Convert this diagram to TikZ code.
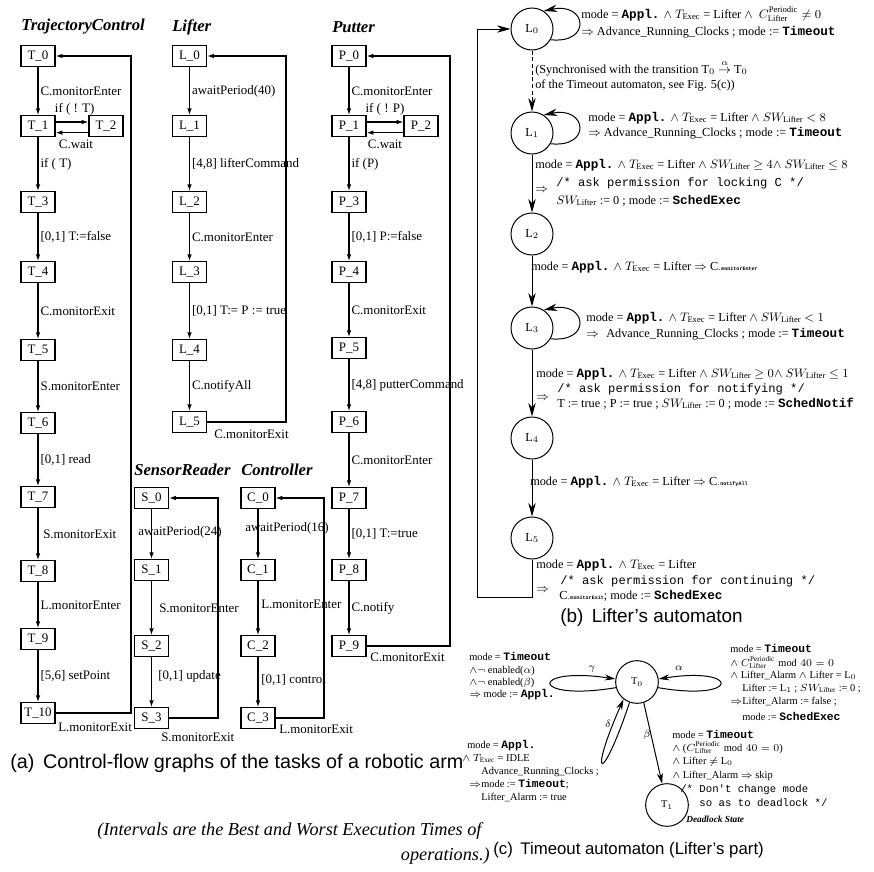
\RequirePackage{fix-cm}
\documentclass[tikz,border=0pt]{standalone}
\usepackage{fontspec}
\setmainfont{Liberation Serif}
\newfontfamily\sansfam{Liberation Sans}
\newfontfamily\monofam{Liberation Mono}
\usetikzlibrary{arrows.meta,calc}

% font sizes
\newcommand\fntA{\fontsize{9.7}{11}\selectfont}
\newcommand\fntTitle{\fontsize{12.5}{14}\selectfont\bfseries\itshape}
\newcommand\fntNote{\fontsize{13.7}{16}\selectfont\itshape}
\newcommand\fntB{\fontsize{9.2}{11}\selectfont}
\newcommand\fntC{\fontsize{7.8}{9}\selectfont}
\newcommand\kwB[1]{{\monofam\bfseries\fontsize{9.5}{10}\selectfont #1}}
\newcommand\kwC[1]{{\monofam\bfseries\fontsize{8.5}{9}\selectfont #1}}
\newcommand\cmtB[1]{{\monofam\fontsize{9.1}{10}\selectfont #1}}
\newcommand\cmtC[1]{{\monofam\fontsize{8}{9}\selectfont #1}}
\newcommand\tinytt[1]{{\monofam\bfseries\fontsize{3.8}{4}\selectfont #1}}
\newcommand\Texec{$T_{\mathrm{Exec}}$}
\newcommand\SWl{$SW_{\mathrm{Lifter}}$}
\newcommand\Cper{C^{\mathrm{Periodic}}_{\mathrm{Lifter}}}

\begin{document}
\begin{tikzpicture}[x=0.75pt,y=0.75pt,
  box/.style={draw, line width=0.9pt, minimum width=25.5pt, minimum height=15.5pt, inner sep=0pt, font=\fntA},
  aarr/.style={line width=0.9pt, -{Latex[length=5pt,width=3.4pt]}},
  lab/.style={font=\fntA, anchor=west, inner sep=1.5pt},
  ttl/.style={font=\fntTitle, anchor=west, inner sep=0pt},
  lcirc/.style={draw, circle, line width=0.75pt, minimum size=31.5pt, inner sep=0pt, font=\fntB},
  tcirc/.style={draw, circle, line width=0.75pt, minimum size=32pt, inner sep=0pt, font=\fntC},
  barr/.style={line width=0.75pt, -{Stealth[length=10pt,width=5.5pt,inset=3pt]}},
  carr/.style={line width=0.75pt, -{Stealth[length=8pt,width=4.5pt,inset=2.5pt]}},
  btx/.style={anchor=base west, inner sep=0pt, font=\fntB},
  ctx/.style={anchor=base west, inner sep=0pt, font=\fntC},
  captxt/.style={anchor=west, inner sep=0pt, font=\sansfam}]

\useasboundingbox (0,0) rectangle (874,-871);
\fill[white] (0,0) rectangle (874,-871);
\clip (0,0) rectangle (874,-871);

% ---------------- (a) control-flow graphs ----------------
\node[ttl] (ttlT) at (21,-27) {TrajectoryControl};
\node[ttl] (ttlL) at (172,-27) {Lifter};
\node[ttl] (ttlP) at (332,-27) {Putter};
\node[ttl] (ttlS) at (134,-470) {SensorReader};
\node[ttl] (ttlC) at (241,-470) {Controller};

% TrajectoryControl
\node[box] (T0) at (38,-56) {T\_0};
\node[box] (T1) at (38,-126) {T\_1};
\node[box] (T2) at (106,-126) {T\_2};
\node[box] (T3) at (38,-202) {T\_3};
\node[box] (T4) at (38,-272) {T\_4};
\node[box] (T5) at (38,-350) {T\_5};
\node[box] (T6) at (38,-423) {T\_6};
\node[box] (T7) at (38,-497) {T\_7};
\node[box] (T8) at (38,-571) {T\_8};
\node[box] (T9) at (38,-639) {T\_9};
\node[box] (T10) at (38,-713) {T\_10};
\draw[aarr] (T0) -- node[lab] {C.monitorEnter} (T1);
\draw[aarr] ([yshift=3pt]T1.east) -- node[font=\fntA, inner sep=0pt, yshift=9.5pt, xshift=2pt] {if ( ! T)} ([yshift=3pt]T2.west);
\draw[aarr] ([yshift=-5pt]T2.west) -- node[font=\fntA, inner sep=0pt, yshift=-9pt, xshift=3pt] {C.wait} ([yshift=-5pt]T1.east);
\draw[aarr] (T1) -- node[lab] {if ( T)} (T3);
\draw[aarr] (T3) -- node[lab] {[0,1] T:=false} (T4);
\draw[aarr] (T4) -- node[lab] {C.monitorExit} (T5);
\draw[aarr] (T5) -- node[lab] {S.monitorEnter} (T6);
\draw[aarr] (T6) -- node[lab] {[0,1] read} (T7);
\draw[aarr] (T7) -- node[lab, xshift=2pt] {S.monitorExit} (T8);
\draw[aarr] (T8) -- node[lab] {L.monitorEnter} (T9);
\draw[aarr] (T9) -- node[lab] {[5,6] setPoint} (T10);
\coordinate (Tr) at (131,-56);
\draw[aarr] (T10.east) -| (Tr) -- (T0.east);
\node[lab] (Tx) at (56,-727) {L.monitorExit};

% Lifter
\node[box] (La0) at (189.5,-56) {L\_0};
\node[box] (La1) at (189.5,-126) {L\_1};
\node[box] (La2) at (189.5,-202) {L\_2};
\node[box] (La3) at (189.5,-272) {L\_3};
\node[box] (La4) at (189.5,-350) {L\_4};
\node[box] (La5) at (189.5,-422) {L\_5};
\draw[aarr] (La0) -- node[lab] {awaitPeriod(40)} (La1);
\draw[aarr] (La1) -- node[lab] {[4,8] lifterCommand} (La2);
\draw[aarr] (La2) -- node[lab] {C.monitorEnter} (La3);
\draw[aarr] (La3) -- node[lab] {[0,1] T:= P := true} (La4);
\draw[aarr] (La4) -- node[lab] {C.notifyAll} (La5);
\coordinate (Lr) at (286,-56);
\draw[aarr] (La5.east) -| (Lr) -- (La0.east);
\node[lab] (Lx) at (212,-434) {C.monitorExit};

% Putter
\node[box] (P0) at (349,-56) {P\_0};
\node[box] (P1) at (349,-126) {P\_1};
\node[box] (P2) at (421,-126) {P\_2};
\node[box] (P3) at (349,-202) {P\_3};
\node[box] (P4) at (349,-272) {P\_4};
\node[box] (P5) at (349,-348) {P\_5};
\node[box] (P6) at (349,-422) {P\_6};
\node[box] (P7) at (349,-498) {P\_7};
\node[box] (P8) at (349,-570) {P\_8};
\node[box] (P9) at (349,-646) {P\_9};
\draw[aarr] (P0) -- node[lab] {C.monitorEnter} (P1);
\draw[aarr] ([yshift=3pt]P1.east) -- node[font=\fntA, inner sep=0pt, yshift=9.5pt] {if ( ! P)} ([yshift=3pt]P2.west);
\draw[aarr] ([yshift=-5pt]P2.west) -- node[font=\fntA, inner sep=0pt, yshift=-9pt] {C.wait} ([yshift=-5pt]P1.east);
\draw[aarr] (P1) -- node[lab] {if (P)} (P3);
\draw[aarr] (P3) -- node[lab] {[0,1] P:=false} (P4);
\draw[aarr] (P4) -- node[lab] {C.monitorExit} (P5);
\draw[aarr] (P5) -- node[lab] {[4,8] putterCommand} (P6);
\draw[aarr] (P6) -- node[lab] {C.monitorEnter} (P7);
\draw[aarr] (P7) -- node[lab] {[0,1] T:=true} (P8);
\draw[aarr] (P8) -- node[lab] {C.notify} (P9);
\coordinate (Pr) at (450,-56);
\draw[aarr] (P9.east) -| (Pr) -- (P0.east);
\node[lab] (Px) at (368,-657) {C.monitorExit};

% SensorReader
\node[box] (S0) at (151.5,-498) {S\_0};
\node[box] (S1) at (151.5,-570) {S\_1};
\node[box] (S2) at (151.5,-646) {S\_2};
\node[box] (S3) at (151.5,-718) {S\_3};
\draw[aarr] (S0) -- (S1);
\draw[aarr] (S1) -- (S2);
\draw[aarr] (S2) -- (S3);
\node[lab] (Sl1) at (136,-532) {awaitPeriod(24)};
\node[lab] (Sl2) at (157,-608) {S.monitorEnter};
\node[lab] (Sl3) at (156,-676) {[0,1] update};
\coordinate (Sr) at (218,-498);
\draw[aarr] (S3.east) -| (Sr) -- (S0.east);
\node[lab] (Sx) at (159,-737) {S.monitorExit};

% Controller
\node[box] (C0) at (258,-498) {C\_0};
\node[box] (C1) at (258,-570) {C\_1};
\node[box] (C2) at (258,-646) {C\_2};
\node[box] (C3) at (258,-718) {C\_3};
\draw[aarr] (C0) -- (C1);
\draw[aarr] (C1) -- (C2);
\draw[aarr] (C2) -- (C3);
\node[lab] (Cl1) at (243,-528) {awaitPeriod(16)};
\node[lab] (Cl2) at (259,-604) {L.monitorEnter};
\node[lab] (Cl3) at (259,-680) {[0,1] control};
\coordinate (Cr) at (324,-498);
\draw[aarr] (C3.east) -| (Cr) -- (C0.east);
\node[lab] (Cx) at (277,-729) {L.monitorExit};

\node[captxt, font=\sansfam\fontsize{14.8}{17}\selectfont] (capA) at (10,-763) {(a)\hspace{0.45em}Control-flow graphs of the tasks of a robotic arm};
\node[anchor=west, inner sep=0pt, font=\fntNote] (note1) at (97,-831) {(Intervals are the Best and Worst Execution Times of};
\node[anchor=east, inner sep=0pt, font=\fntNote] (note2) at (490,-856) {operations.)};

% ---------------- (b) Lifter's automaton ----------------
\node[lcirc] (Lb0) at (532,-29) {L$_0$};
\node[lcirc] (Lb1) at (532,-133) {L$_1$};
\node[lcirc] (Lb2) at (532,-234) {L$_2$};
\node[lcirc] (Lb3) at (532,-328) {L$_3$};
\node[lcirc] (Lb4) at (532,-438) {L$_4$};
\node[lcirc] (Lb5) at (532,-538) {L$_5$};

\draw[barr, dash pattern=on 3pt off 2pt] (Lb0) -- (Lb1);
\draw[barr] (Lb1) -- (Lb2);
\draw[barr] (Lb2) -- (Lb3);
\draw[barr] (Lb3) -- (Lb4);
\draw[barr] (Lb4) -- (Lb5);
\foreach \n in {Lb0,Lb1,Lb3}{
  \draw[barr] (\n.-30) .. controls ($(\n)+(60,-15)$) and ($(\n)+(55,27)$) .. (\n.57);
}
\coordinate (Lc) at (477,-597);
\draw[barr] (Lb5.south) |- (Lc) |- (Lb0.west);

\node[btx] (b01) at (581,-18) {mode = \kwB{Appl.} $\wedge$ \Texec{} = Lifter $\wedge$\ \ $\Cper \neq 0$};
\node[btx] (b02) at (581,-35) {$\Rightarrow$ Advance\_Running\_Clocks ; mode := \kwB{Timeout}};
\node[btx] (bs1) at (535,-73) {(Synchronised with the transition T$_0 \stackrel{\alpha}{\rightarrow}$ T$_0$};
\node[btx] (bs2) at (535,-88) {of the Timeout automaton, see Fig. 5(c))};
\node[btx] (b11) at (588,-121) {mode = \kwB{Appl.} $\wedge$ \Texec{} = Lifter $\wedge$ \SWl{} $< 8$};
\node[btx] (b12) at (588,-136) {$\Rightarrow$ Advance\_Running\_Clocks ; mode := \kwB{Timeout}};
\node[btx] (b121) at (535,-168) {mode = \kwB{Appl.} $\wedge$ \Texec{} = Lifter $\wedge$ \SWl{} $\geq 4 \wedge$ \SWl{} $\leq 8$};
\node[btx] (b122) at (556,-186) {\cmtB{/* ask permission for locking C */}};
\node[btx] (b123) at (535,-192) {$\Rightarrow$};
\node[btx] (b124) at (556,-204) {\SWl{} := 0 ; mode := \kwB{SchedExec}};
\node[btx] (b231) at (531,-270) {mode = \kwB{Appl.} $\wedge$ \Texec{} = Lifter $\Rightarrow$ C\tinytt{.monitorEnter}};
\node[btx] (b31) at (586,-321) {mode = \kwB{Appl.} $\wedge$ \Texec{} = Lifter $\wedge$ \SWl{} $< 1$};
\node[btx] (b32) at (586,-337) {$\Rightarrow$};
\node[btx] (b33) at (606,-337) {Advance\_Running\_Clocks ; mode := \kwB{Timeout}};
\node[btx] (b341) at (536,-377) {mode = \kwB{Appl.} $\wedge$ \Texec{} = Lifter $\wedge$ \SWl{} $\geq 0 \wedge$ \SWl{} $\leq 1$};
\node[btx] (b342) at (557,-392) {\cmtB{/* ask permission for notifying */}};
\node[btx] (b343) at (536,-400) {$\Rightarrow$};
\node[btx] (b344) at (557,-407) {T := true ; P := true ; \SWl{} := 0 ; mode := \kwB{SchedNotif}};
\node[btx] (b451) at (530,-485) {mode = \kwB{Appl.} $\wedge$ \Texec{} = Lifter $\Rightarrow$ C\tinytt{.notifyAll}};
\node[btx] (b51) at (536,-568) {mode = \kwB{Appl.} $\wedge$ \Texec{} = Lifter};
\node[btx] (b52) at (560,-584) {\cmtB{/* ask permission for continuing */}};
\node[btx] (b53) at (536,-592) {$\Rightarrow$};
\node[btx] (b54) at (559,-599) {C\tinytt{.monitorExit}; mode := \kwB{SchedExec}};
\node[captxt, font=\sansfam\fontsize{14.2}{16}\selectfont] (capB) at (560,-618) {(b)\hspace{0.45em}Lifter’s automaton};

% ---------------- (c) Timeout automaton ----------------
\node[tcirc] (Tc0) at (637,-682) {T$_0$};
\node[tcirc] (Tc1) at (667,-805) {T$_1$};
\draw[carr] (Tc0.195) .. controls ($(Tc0)+(-108,-20)$) and ($(Tc0)+(-108,16)$) .. (Tc0.172);
\draw[carr] (Tc0.-15) .. controls ($(Tc0)+(104,-20)$) and ($(Tc0)+(104,16)$) .. (Tc0.8);
\draw[carr] (Tc0.250) .. controls ($(Tc0)+(-36,-106)$) and ($(Tc0)+(-49,-97)$) .. (Tc0.232);
\draw[carr] (Tc0.-72) -- (Tc1);
\node[font=\fntC, inner sep=0pt] (lg) at (592,-669) {$\gamma$};
\node[font=\fntC, inner sep=0pt] (la) at (679,-668) {$\alpha$};
\node[font=\fntC, inner sep=0pt] (ld) at (608,-724) {$\delta$};
\node[font=\fntC, inner sep=0pt] (lb) at (647,-735) {$\beta$};

\node[ctx] (cg1) at (469,-660) {mode = \kwC{Timeout}};
\node[ctx] (cg2) at (469,-673) {$\wedge\neg$ enabled($\alpha$)};
\node[ctx] (cg3) at (469,-685) {$\wedge\neg$ enabled($\beta$)};
\node[ctx] (cg4) at (469,-697) {$\Rightarrow$ mode := \kwC{Appl.}};

\node[ctx] (ca1) at (730,-652) {mode = \kwC{Timeout}};
\node[ctx] (ca2) at (730,-666) {$\wedge\ \Cper \bmod 40 = 0$};
\node[ctx] (ca3) at (730,-678) {$\wedge$ Lifter\_Alarm $\wedge$ Lifter = L$_0$};
\node[ctx] (ca4) at (742,-691) {Lifter := L$_1$ ; \SWl{} := 0 ;};
\node[ctx] (ca5) at (730,-704) {$\Rightarrow$};
\node[ctx] (ca6) at (742,-704) {Lifter\_Alarm := false ;};
\node[ctx] (ca7) at (742,-720) {mode := \kwC{SchedExec}};

\node[ctx] (cb1) at (672,-738) {mode = \kwC{Timeout}};
\node[ctx] (cb2) at (672,-751) {$\wedge$ ($\Cper \bmod 40 = 0$)};
\node[ctx] (cb3) at (672,-764) {$\wedge$ Lifter $\neq$ L$_0$};
\node[ctx] (cb4) at (672,-778) {$\wedge$ Lifter\_Alarm $\Rightarrow$ skip};
\node[ctx] (cb5) at (680,-792) {\cmtC{/* Don't change mode}};
\node[ctx] (cb6) at (680,-806) {\cmtC{\ \ \ so as to deadlock */}};
\node[anchor=base west, inner sep=0pt, font=\fontsize{7}{8}\selectfont\bfseries\itshape] (cb7) at (686,-822) {Deadlock State};

\node[ctx, fill=white, inner ysep=1pt] (cd2) at (462,-761) {$\wedge$ \Texec{} = IDLE};
\node[ctx] (cd1) at (467,-748) {mode = \kwC{Appl.}};
\node[ctx] (cd3) at (481,-774) {Advance\_Running\_Clocks ;};
\node[ctx] (cd4) at (469,-787) {$\Rightarrow$};
\node[ctx] (cd5) at (481,-787) {mode := \kwC{Timeout};};
\node[ctx] (cd6) at (481,-800) {Lifter\_Alarm := true};

\node[captxt, font=\sansfam\fontsize{12.6}{15}\selectfont] (capC) at (493,-850) {(c)\hspace{0.45em}Timeout automaton (Lifter’s part)};
\end{tikzpicture}
\end{document}
